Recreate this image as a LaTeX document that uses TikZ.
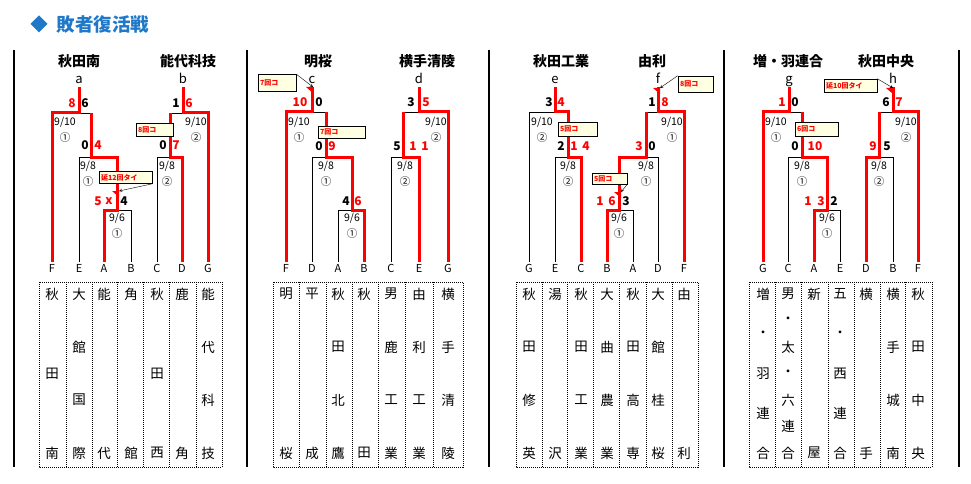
\documentclass[tikz,border=0pt]{standalone}
\usepackage{fontspec}
\setmainfont{Noto Sans CJK JP}
\definecolor{titleblue}{HTML}{1F78C8}
\definecolor{notefill}{HTML}{FFFFE1}

\begin{document}
\begin{tikzpicture}[x=1pt,y=-1pt,
    win/.style={red,line width=3pt},
    lose/.style={line width=0.8pt},
    team/.style={font=\bfseries\fontsize{14}{15}\selectfont},
    seed/.style={font=\fontsize{13}{14}\selectfont,inner sep=0.5pt,text height=9.5pt,text depth=3pt},
    lbl/.style={font=\fontsize{11}{12}\selectfont,inner sep=2pt,text height=8.5pt,text depth=0pt},
    score/.style={font=\bfseries\fontsize{12}{12}\selectfont,inner sep=0pt},
    wscore/.style={score,text=red},
    day/.style={font=\fontsize{10.5}{11}\selectfont,inner sep=0pt},
    cell/.style={font=\fontsize{13.5}{14}\selectfont,inner sep=0pt},
    dotbox/.style={line width=0.8pt,dash pattern=on 1pt off 1pt},
    note/.style={draw,line width=0.6pt,fill=notefill,text=red,
        font=\bfseries\fontsize{7}{7}\selectfont,inner sep=2pt,
        align=left,text width=#1}]

    \useasboundingbox (0,0) rectangle (971,484);

    % title
    \fill[titleblue] (39,15.5) -- (47.5,24) -- (39,32.5) -- (30.5,24) -- cycle;
    \node[anchor=west,text=titleblue,font=\bfseries\fontsize{18.5}{20}\selectfont] (title) at (53,24) {敗者復活戦};

    \foreach \x in {14,247,489,724,959}
        \draw[line width=1.3pt] (\x,50) -- (\x,467);

    % team names and seeds
    \foreach \x/\t [count=\i] in {79/秋田南,188/能代科技,318/明桜,427/横手清陵,
            561/秋田工業,652/由利,788/増・羽連合,886/秋田中央}
        \node[team] (team\i) at (\x,61) {\t};
    \foreach \x/\l in {79/a,183/b,312/c,419/d,555/e,658/f,789/g,893/h}
        \node[seed] (\l) at (\x,80) {\l};

    % letters at the foot of each bracket
    \foreach \g/\x/\l in {1/52/F,1/79/E,1/104/A,1/131/B,1/157/C,1/182/D,1/208/G,
            2/286/F,2/312/D,2/338/A,2/364/B,2/391/C,2/419/E,2/448/G,
            3/529/G,3/555/E,3/581/C,3/607/B,3/633/A,3/658/D,3/684/F,
            4/763/G,4/788/C,4/814/A,4/840/E,4/866/D,4/893/B,4/918/F}
        \node[lbl] (p\g\l) at (\x,268) {\l};

    % losers first
    \draw[lose] (p1E.north) |- (91,157);
    \draw[lose] (p1B.north) |- (117,210);
    \draw[lose] (91,113) -- (79,113);
    \draw[lose] (p1C.north) |- (170,157);
    \draw[lose] (170,113) -- (183,113);
    \draw[lose] (p2D.north) |- (326,157);
    \draw[lose] (p2A.north) |- (352,210);
    \draw[lose] (326,112) -- (312,112);
    \draw[lose] (p2C.north) |- (403,157);
    \draw[lose] (403,112) -- (419,112);
    \draw[lose] (p3G.north) |- (555,112);
    \draw[lose] (p3E.north) |- (568,157);
    \draw[lose] (p3D.north) |- (646,157);
    \draw[lose] (p3A.north) |- (619,210);
    \draw[lose] (646,112) -- (658,112);
    \draw[lose] (p4C.north) |- (802,157);
    \draw[lose] (p4E.north) |- (827,210);
    \draw[lose] (802,112) -- (789,112);
    \draw[lose] (p4B.north) |- (879,157);
    \draw[lose] (879,112) -- (893,112);

    % winners
    \draw[win] (p1A.north) |- (117,210) -- (117,157) -- (91,157) -- (91,113);
    \draw[win] (p1F.north) |- (79,113) -- (a.south);
    \draw[win] (p1D.north) |- (170,157) -- (170,113);
    \draw[win] (p1G.north) |- (183,113) -- (b.south);
    \draw[win] (p2B.north) |- (352,210) -- (352,157) -- (326,157) -- (326,112);
    \draw[win] (p2F.north) |- (312,112) -- (c.south);
    \draw[win] (p2E.north) |- (403,157) -- (403,112);
    \draw[win] (p2G.north) |- (419,112) -- (d.south);
    \draw[win] (p3C.north) |- (568,157) -- (568,112) -- (555,112) -- (e.south);
    \draw[win] (p3B.north) |- (619,210) -- (619,157) -- (646,157) -- (646,112);
    \draw[win] (p3F.north) |- (658,112) -- (f.south);
    \draw[win] (p4A.north) |- (827,210) -- (827,157) -- (802,157) -- (802,112);
    \draw[win] (p4G.north) |- (789,112) -- (g.south);
    \draw[win] (p4D.north) |- (879,157) -- (879,112);
    \draw[win] (p4F.north) |- (893,112) -- (h.south);

    % scores
    \foreach \x/\y/\s [count=\i] in {85/103/6,85/145/0,124/201/4,176/103/1,163/145/0,
            319/102/0,319/146/0,346/201/4,411/102/3,397/146/5,549/102/3,561/146/2,
            652/102/1,652/146/0,626/201/3,795/102/0,795/146/0,834/201/2,886/102/6,887/146/5}
        \node[score] (s\i) at (\x,\y) {\s};
    \foreach \x/\y/\s [count=\i] in {72/103/8,98/145/4,98/201/5,109/201/x,189/103/6,176/145/7,
            300/102/10,332/146/9,358/201/6,426/102/5,413/146/1,425/146/1,
            561/102/4,574/146/1,586/146/4,665/102/8,639/146/3,600/201/1,612/201/6,
            782/102/1,815/146/10,808/201/1,821/201/3,899/102/7,873/146/9}
        \node[wscore] (w\i) at (\x,\y) {\s};

    % dates and grounds
    \foreach \x/\y/\d/\r [count=\i] in {65/122/10/①,88/166/8/①,117/218/6/①,196/122/10/②,167/166/8/②,
            299/122/10/①,326/166/8/①,352/218/6/①,436/122/10/②,405/166/8/②,
            542/122/10/②,568/166/8/②,672/122/10/①,646/166/8/①,619/218/6/①,
            776/122/10/①,802/166/8/①,827/218/6/①,906/122/10/②,879/166/8/②} {
        \node[day] (d\i) at (\x,\y) {9/\d};
        \node[day] (r\i) at (\x,\y+16) {\r};
    }

    % notes
    \node[note=33pt,minimum height=13pt] (k1) at (154.5,129.5) {8回コ};
    \node[note=49pt,minimum height=12pt] (k2) at (125.5,177.5) {延12回タイ};
    \node[note=34pt,minimum height=17pt] (k3) at (277,83) {7回コ};
    \node[note=43pt,minimum height=12pt] (k4) at (341.5,132) {7回コ};
    \node[note=35pt,minimum height=14pt] (k5) at (577.5,129) {5回コ};
    \node[note=31pt,minimum height=16pt] (k6) at (695.5,84) {8回コ};
    \node[note=31pt,minimum height=11pt] (k7) at (609.5,178.5) {5回コ};
    \node[note=39pt,minimum height=14pt] (k8) at (816.5,129) {6回コ};
    \node[note=49pt,minimum height=13pt] (k9) at (850.5,85.5) {延10回タイ};

    \coordinate (m1) at (119,191);
    \coordinate (m2) at (313,87);
    \coordinate (m3) at (660,88);
    \coordinate (m4) at (621,192);
    \coordinate (m5) at (893,88);
    \foreach \m in {m1,m2,m3,m4,m5}
        \fill[red] (\m) -- ++(-7,0) -- ++(7,6) -- cycle;
    \draw[-stealth,line width=0.4pt] (k2.south east) -- (m1);
    \draw[-stealth,line width=0.4pt] (k3.north east) -- (m2);
    \draw[-stealth,line width=0.4pt] (k6.north west) -- (m3);
    \draw[-stealth,line width=0.4pt] (k7.south east) -- (m4);
    \draw[-stealth,line width=0.4pt] (k9.north east) -- (m5);

    % school tables
    \foreach \a/\b in {39/222,273/463,516/698,749/932}
        \draw[dotbox] (\a,282) rectangle (\b,467);
    \foreach \x in {66,92,117,143,169,196,299,326,352,378,405,433,
            542,567,593,619,646,672,775,801,828,854,880,905}
        \draw[dotbox] (\x,282) -- (\x,467);
    \foreach \x/\n/\s in {52/3/{秋,田,南},79/4/{大,館,国,際},104/2/{能,代},131/2/{角,館},
            157/3/{秋,田,西},182/2/{鹿,角},208/4/{能,代,科,技},
            286/2/{明,桜},312/2/{平,成},338/4/{秋,田,北,鷹},364/2/{秋,田},
            391/4/{男,鹿,工,業},419/4/{由,利,工,業},448/4/{横,手,清,陵},
            529/4/{秋,田,修,英},555/2/{湯,沢},581/4/{秋,田,工,業},607/4/{大,曲,農,業},
            633/4/{秋,田,高,専},658/4/{大,館,桂,桜},684/2/{由,利},
            763/5/{増,・,羽,連,合},788/7/{男,・,太,・,六,連,合},814/2/{新,屋},
            840/5/{五,・,西,連,合},866/2/{横,手},893/4/{横,手,城,南},918/4/{秋,田,中,央}}
        \foreach \c [count=\k] in \s
            \node[cell] (c\x-\k) at (\x,{294+(\k-1)*159/(\n-1)}) {\c};
\end{tikzpicture}
\end{document}
